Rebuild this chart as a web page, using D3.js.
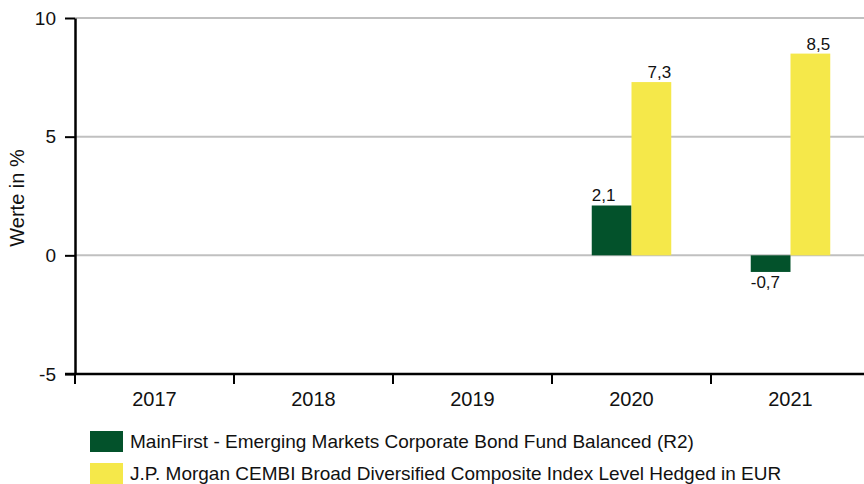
<!DOCTYPE html>
<html>
<head>
<meta charset="utf-8">
<script src="https://cdn.jsdelivr.net/npm/d3@7"></script>
<style>
  body { margin: 0; background: #fff; }
  svg { font-family: "Liberation Sans", Arial, sans-serif; }
</style>
</head>
<body>
<div id="chart"></div>
<script>
// data
var years = ["2017", "2018", "2019", "2020", "2021"];
var seriesNames = [
  "MainFirst - Emerging Markets Corporate Bond Fund Balanced (R2)",
  "J.P. Morgan CEMBI Broad Diversified Composite Index Level Hedged in EUR"
];
var fundValues = [null, null, null, 2.1, -0.7];
var indexValues = [null, null, null, 7.3, 8.5];
var yTicks = [-5, 0, 5, 10];
var colors = ["#03522b", "#f5e84a"];

var width = 864, height = 484;
var margin = {top: 18, right: 0, bottom: 110, left: 75};

var svg = d3.select("#chart").append("svg")
  .attr("width", width)
  .attr("height", height);

var x = d3.scaleBand()
  .domain(years)
  .range([margin.left, margin.left + 159 * years.length]);

var y = d3.scaleLinear()
  .domain([-5, 10])
  .range([height - margin.bottom, margin.top]);

// gridlines
svg.append("g")
  .selectAll("line")
  .data(yTicks.filter(function(d) { return d !== -5; }))
  .enter().append("line")
  .attr("x1", margin.left)
  .attr("x2", width)
  .attr("y1", function(d) { return y(d); })
  .attr("y2", function(d) { return y(d); })
  .attr("stroke", "#c0c0c0")
  .attr("stroke-width", 2);

// bars
var rows = years.map(function(yr, i) {
  return [
    {year: yr, s: 0, value: fundValues[i]},
    {year: yr, s: 1, value: indexValues[i]}
  ];
});
var flat = [].concat.apply([], rows).filter(function(d) { return d.value !== null; });

var bw = x.bandwidth() / 4;
svg.append("g")
  .selectAll("rect")
  .data(flat)
  .enter().append("rect")
  .attr("x", function(d) { return x(d.year) + x.bandwidth() / 4 + d.s * bw; })
  .attr("width", bw)
  .attr("y", function(d) { return y(Math.max(0, d.value)); })
  .attr("height", function(d) { return Math.abs(y(d.value) - y(0)); })
  .attr("fill", function(d) { return colors[d.s]; });

// value labels
var fmt = function(v) { return d3.format(".1f")(v).replace(".", ",").replace("\u2212", "-"); };
svg.append("g")
  .selectAll("text")
  .data(flat)
  .enter().append("text")
  .attr("x", function(d) {
    var x0 = x(d.year) + x.bandwidth() / 4 + d.s * bw;
    return d.s === 0 ? x0 : x0 + bw;
  })
  .attr("y", function(d) { return d.value >= 0 ? y(d.value) - 4 : y(d.value) + 16; })
  .attr("text-anchor", function(d) { return d.s === 0 ? "start" : "end"; })
  .style("font-size", "17px")
  .style("fill", "#111")
  .text(function(d) { return fmt(d.value); });

// y axis
var yAxis = svg.append("g")
  .attr("transform", "translate(" + margin.left + ",0)")
  .call(d3.axisLeft(y).tickValues(yTicks).tickSize(10).tickSizeOuter(0).tickPadding(9)
    .tickFormat(function(d) { return String(d); }));
yAxis.select(".domain").attr("stroke", "#000").attr("stroke-width", 2.5);
yAxis.selectAll(".tick line").attr("stroke", "#000").attr("stroke-width", 2);
yAxis.attr("font-family", null).attr("font-size", null);
yAxis.selectAll("text")
  .style("font-size", "19px")
  .style("fill", "#111");

// x axis
var xTickPos = years.map(function(d) { return x(d); });
var xAxisG = svg.append("g")
  .attr("transform", "translate(0," + y(-5) + ")");
xAxisG.append("line")
  .attr("x1", margin.left - 10)
  .attr("x2", width)
  .attr("stroke", "#000")
  .attr("stroke-width", 2.5);
xAxisG.selectAll(".xt")
  .data(xTickPos)
  .enter().append("line")
  .attr("x1", function(d) { return d; })
  .attr("x2", function(d) { return d; })
  .attr("y1", 0)
  .attr("y2", 10)
  .attr("stroke", "#000")
  .attr("stroke-width", 2);
xAxisG.selectAll(".xl")
  .data(years)
  .enter().append("text")
  .attr("x", function(d) { return x(d) + x.bandwidth() / 2; })
  .attr("y", 32)
  .attr("text-anchor", "middle")
  .style("font-size", "20px")
  .style("fill", "#111")
  .text(function(d) { return d; });

// y axis title
svg.append("text")
  .attr("transform", "translate(24," + 198 + ") rotate(-90)")
  .attr("text-anchor", "middle")
  .style("font-size", "20px")
  .style("fill", "#111")
  .text("Werte in %");

// legend
var legend = svg.append("g")
  .selectAll("g")
  .data(seriesNames)
  .enter().append("g")
  .attr("transform", function(d, i) { return "translate(90," + (431 + i * 32) + ")"; });
legend.append("rect")
  .attr("width", 33)
  .attr("height", 21)
  .attr("fill", function(d, i) { return colors[i]; });
legend.append("text")
  .attr("x", 40)
  .attr("y", 17)
  .style("font-size", "19px")
  .style("fill", "#111")
  .text(function(d) { return d; });
</script>
</body>
</html>
